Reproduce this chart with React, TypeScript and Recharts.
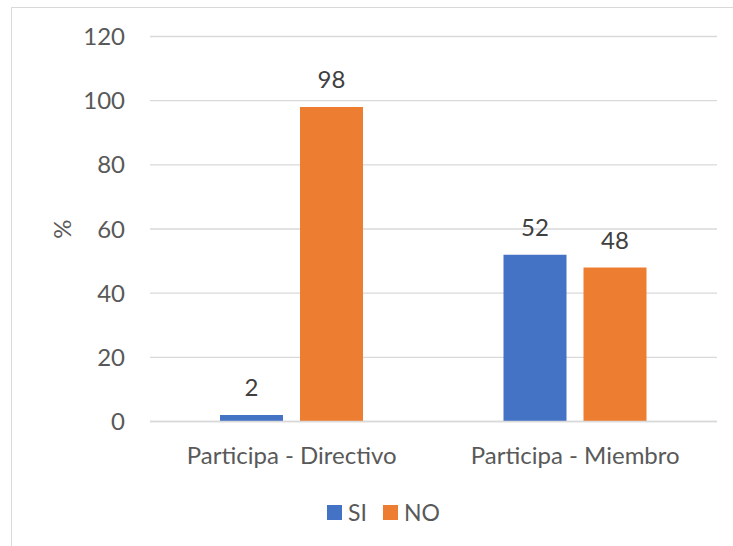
import React from 'react';
import { BarChart, Bar, XAxis, YAxis, CartesianGrid, Legend, LabelList } from 'recharts';

const categories = ['Participa - Directivo', 'Participa - Miembro'];
const siValues = [2, 52];
const noValues = [98, 48];
const yTicks = [0, 20, 40, 60, 80, 100, 120];

const data = categories.map((name, i) => ({ name, SI: siValues[i], NO: noValues[i] }));

const FONT = 'Lato, "Noto Sans", sans-serif';
const FS = 24;
const BLUE = '#4472C4';
const ORANGE = '#ED7D31';

const LegendContent = () => (
  <div
    style={{
      height: 30,
      display: 'flex',
      alignItems: 'center',
      justifyContent: 'center',
      paddingLeft: 50,
      fontFamily: FONT,
      fontSize: 23,
      color: '#595959',
    }}
  >
    {[
      { label: 'SI', color: BLUE },
      { label: 'NO', color: ORANGE },
    ].map((it, i) => (
      <div key={it.label} style={{ display: 'flex', alignItems: 'center', marginLeft: i === 0 ? 0 : 16 }}>
        <span style={{ display: 'inline-block', width: 15, height: 15, background: it.color, marginRight: 6 }} />
        <span>{it.label}</span>
      </div>
    ))}
  </div>
);

export default function App() {
  return (
    <div style={{ position: 'absolute', left: 0, top: 0, width: 733, height: 546, overflow: 'hidden', background: '#fff' }}>
      <div
        style={{
          position: 'absolute',
          left: 10.5,
          top: 6.5,
          width: 760,
          height: 600,
          border: '1.5px solid #d9d9d9',
          boxSizing: 'border-box',
        }}
      />
      <div style={{ position: 'absolute', left: 0, top: 0 }}>
        <BarChart
          width={733}
          height={546}
          data={data}
          margin={{ top: 36.5, right: 16, left: 0, bottom: 19 }}
          barGap={17}
          barSize={63}
        >
          <CartesianGrid horizontal vertical={false} stroke="#d9d9d9" strokeWidth={1.3} />
          <XAxis
            dataKey="name"
            height={75.5}
            tickLine={false}
            tickSize={0}
            tickMargin={25}
            axisLine={{ stroke: '#d9d9d9', strokeWidth: 1.3 }}
            tick={{ fill: '#595959', fontSize: FS, fontFamily: FONT }}
          />
          <YAxis
            width={150}
            domain={[0, 120]}
            ticks={yTicks}
            interval={0}
            axisLine={false}
            tickLine={false}
            tickSize={0}
            tickMargin={25}
            tick={{ fill: '#595959', fontSize: FS, fontFamily: FONT }}
            label={{ value: '%', angle: -90, position: 'center', dx: -13, fill: '#595959', fontSize: FS, fontFamily: FONT }}
          />
          <Legend verticalAlign="bottom" content={<LegendContent />} />
          <Bar dataKey="SI" fill={BLUE} isAnimationActive={false}>
            <LabelList dataKey="SI" position="top" offset={19} fill="#404040" fontSize={FS} fontFamily={FONT} />
          </Bar>
          <Bar dataKey="NO" fill={ORANGE} isAnimationActive={false}>
            <LabelList dataKey="NO" position="top" offset={19} fill="#404040" fontSize={FS} fontFamily={FONT} />
          </Bar>
        </BarChart>
      </div>
    </div>
  );
}
